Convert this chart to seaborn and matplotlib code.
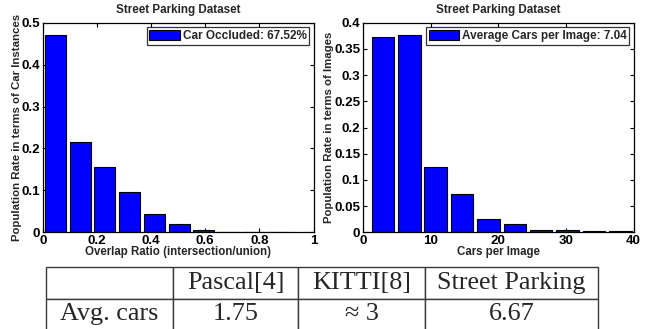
import matplotlib
matplotlib.use("Agg")
import matplotlib.pyplot as plt
import seaborn as sns

# Histogram of overlap ratio between cars (bin centres, population rate)
overlap_centers = [0.046, 0.137, 0.229, 0.320, 0.412, 0.503, 0.595, 0.686, 0.778, 0.869]
overlap_rates = [0.470, 0.216, 0.155, 0.095, 0.043, 0.019, 0.005, 0.001, 0.0, 0.001]
overlap_legend = "Car Occluded: 67.52%"

# Histogram of number of cars per image
cars_centers = [2.95, 6.85, 10.75, 14.65, 18.55, 22.45, 26.35, 30.25, 34.15, 38.05]
cars_rates = [0.373, 0.376, 0.125, 0.074, 0.025, 0.015, 0.0045, 0.0045, 0.0025, 0.0025]
cars_legend = "Average Cars per Image: 7.04"

title = "Street Parking Dataset"
left_xticks = [0, 0.2, 0.4, 0.6, 0.8, 1]
left_xticklabels = ["0", "0.2", "0.4", "0.6", "0.8", "1"]
left_yticks = [0, 0.1, 0.2, 0.3, 0.4, 0.5]
left_yticklabels = ["0", "0.1", "0.2", "0.3", "0.4", "0.5"]
right_xticks = [0, 10, 20, 30, 40]
right_xticklabels = ["0", "10", "20", "30", "40"]
right_yticks = [0, 0.05, 0.1, 0.15, 0.2, 0.25, 0.3, 0.35, 0.4]
right_yticklabels = ["0", "0.05", "0.1", "0.15", "0.2", "0.25", "0.3", "0.35", "0.4"]

# Summary table of average cars per image across datasets
table_header = ["", "Pascal[4]", "KITTI[8]", "Street Parking"]
table_row = ["Avg. cars", "1.75", "\u2248 3", "6.67"]

sns.set_style("ticks")
plt.rcParams["font.family"] = ["Liberation Sans", "DejaVu Sans"]
plt.rcParams["font.weight"] = "bold"
plt.rcParams["axes.linewidth"] = 0.9
plt.rcParams["xtick.direction"] = "in"
plt.rcParams["ytick.direction"] = "in"
plt.rcParams["xtick.major.size"] = 3
plt.rcParams["ytick.major.size"] = 3
plt.rcParams["xtick.major.pad"] = 2
plt.rcParams["ytick.major.pad"] = 2

W, H = 645, 329
fig = plt.figure(figsize=(W / 100, H / 100), dpi=100)
fig.patch.set_facecolor("white")

ax_l = fig.add_axes([43 / W, (H - 232.3) / H, 270.5 / W, 209.6 / H])
ax_r = fig.add_axes([363 / W, (H - 232.3) / H, 270.5 / W, 209.6 / H])


def draw_hist(ax, centers, rates, xlim, ylim, xticks, xtl, yticks, ytl,
              xlabel, ylabel, legend_text):
    sns.barplot(x=centers, y=rates, native_scale=True, width=0.85,
                color="#0000ff", saturation=1, edgecolor="black",
                linewidth=0.8, ax=ax)
    ax.set_xlim(*xlim)
    ax.set_ylim(*ylim)
    ax.set_xticks(xticks, xtl)
    ax.set_yticks(yticks, ytl)
    ax.tick_params(top=True, right=True, labelsize=9.6, width=0.8,
                   colors="black")
    for lab in ax.get_xticklabels() + ax.get_yticklabels():
        lab.set_fontweight("bold")
    for s in ax.spines.values():
        s.set_visible(True)
        s.set_color("black")
    ax.set_xlabel(xlabel, fontsize=8.3, fontweight="bold", labelpad=-1)
    ax.set_ylabel(ylabel, fontsize=8.2, fontweight="bold", labelpad=0)
    ax.set_title(title, fontsize=8.4, fontweight="bold", pad=7)
    leg = ax.legend([ax.patches[0]], [legend_text], loc="upper right",
                    fancybox=False, frameon=True, handlelength=2.6,
                    handleheight=1.0, handletextpad=0.2, borderpad=0.25,
                    borderaxespad=0.35,
                    prop={"size": 8.5, "weight": "bold"})
    leg.get_frame().set_edgecolor("black")
    leg.get_frame().set_linewidth(0.9)


draw_hist(ax_l, overlap_centers, overlap_rates, (0, 1), (0, 0.5),
          left_xticks, left_xticklabels, left_yticks, left_yticklabels,
          "Overlap Ratio (intersection/union)",
          "Population Rate in terms of Car Instances", overlap_legend)
draw_hist(ax_r, cars_centers, cars_rates, (0, 40), (0, 0.4),
          right_xticks, right_xticklabels, right_yticks, right_yticklabels,
          "Cars per Image", "Population Rate in terms of Images", cars_legend)

# Table below the charts
tab_ax = fig.add_axes([46 / W, (H - 330) / H, 552 / W, 63 / H])
tab_ax.axis("off")
col_w = [127, 125, 127, 173]
tot = sum(col_w)
tbl = tab_ax.table(cellText=[table_header, table_row],
                   colWidths=[c / tot for c in col_w],
                   cellLoc="center", bbox=[0, 0, 1, 1])
tbl.auto_set_font_size(False)
for (r, c), cell in tbl.get_celld().items():
    cell.set_edgecolor("#3a3a3a")
    cell.set_linewidth(1.0)
    cell.set_facecolor("white")
    t = cell.get_text()
    t.set_fontsize(18.8)
    t.set_fontweight("normal")
    t.set_fontfamily(["Liberation Serif", "DejaVu Serif"])

fig.savefig("out.png", dpi=100, facecolor="white")
